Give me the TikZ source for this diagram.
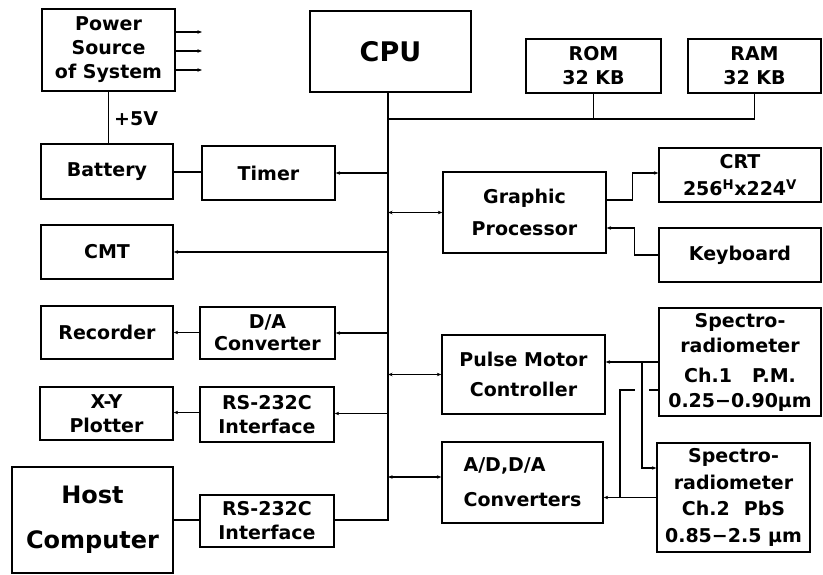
\documentclass[tikz,border=0pt]{standalone}
\usepackage{fontspec}
\setmainfont{DejaVu Sans}
\usetikzlibrary{arrows.meta}
\begin{document}
\begin{tikzpicture}[x=1pt,y=-1pt,
  box/.style={draw,line width=1.3pt,inner sep=0pt,align=center,font=\fontsize{19}{24}\selectfont\bfseries},
  ln/.style={line width=1.3pt},
  arr/.style={ln,-{Stealth[length=4.5pt,width=3.5pt]}},
  rarr/.style={ln,{Stealth[length=4.5pt,width=3.5pt]}-},
  barr/.style={ln,{Stealth[length=4.5pt,width=3.5pt]}-{Stealth[length=4.5pt,width=3.5pt]}},
]
\useasboundingbox (0,0) rectangle (823,574);
% boxes
\node[box,minimum width=133pt,minimum height=82pt] (pow) at (108.5,50) {Power\\Source\\of System};
\node[box,minimum width=132pt,minimum height=55pt] (bat) at (107,171.5) {Battery};
\node[box,minimum width=133pt,minimum height=54pt] (tim) at (268.5,173) {Timer};
\node[box,minimum width=161pt,minimum height=81pt,font=\fontsize{27}{30}\selectfont\bfseries] (cpu) at (390.5,51.5) {CPU};
\node[box,minimum width=135pt,minimum height=54pt] (rom) at (593.5,66) {ROM\\32 KB};
\node[box,minimum width=133pt,minimum height=54pt] (ram) at (754.5,66) {RAM\\32 KB};
\node[box,minimum width=162pt,minimum height=54pt] (crt) at (740,175) {CRT\\[3pt]256\textsuperscript{H}x224\textsuperscript{V}};
\node[box,minimum width=163pt,minimum height=81pt] (gp) at (524.5,212.5) {Graphic\\[8pt]Processor};
\node[box,minimum width=162pt,minimum height=54pt] (kbd) at (740,255) {Keyboard};
\node[box,minimum width=132pt,minimum height=54pt] (cmt) at (107,252) {CMT};
\node[box,minimum width=132pt,minimum height=53pt] (rec) at (107,332.5) {Recorder};
\node[box,minimum width=135pt,minimum height=52pt,font=\fontsize{19}{22}\selectfont\bfseries] (da) at (267.5,333) {D/A\\Converter};
\node[box,minimum width=133pt,minimum height=53pt] (xy) at (106.5,413.5) {X-Y\\Plotter};
\node[box,minimum width=134pt,minimum height=55pt] (rsa) at (267,414.5) {RS-232C\\Interface};
\node[box,minimum width=161pt,minimum height=106pt,font=\fontsize{24}{45}\selectfont\bfseries] (host) at (92.5,520) {Host\\Computer};
\node[box,minimum width=134pt,minimum height=52pt] (rsb) at (267,521) {RS-232C\\Interface};
\node[box,minimum width=163pt,minimum height=79pt,font=\fontsize{19}{30}\selectfont\bfseries] (pmc) at (523.5,374.5) {Pulse Motor\\Controller};
\node[box,minimum width=161pt,minimum height=81pt,font=\fontsize{19}{35}\selectfont\bfseries,align=left] (ad) at (522.5,482.5) {A/D,D/A\\Converters};
\node[box,minimum width=162pt,minimum height=108pt,font=\fontsize{19}{25}\selectfont\bfseries] (spa) at (740,362) {Spectro-\\radiometer\\[5pt]Ch.1\hspace{20pt}P.M.\\0.25−0.90μm};
\node[box,minimum width=153pt,minimum height=109pt,font=\fontsize{19}{26.5}\selectfont\bfseries] (spb) at (733.5,497.5) {Spectro-\\radiometer\\Ch.2\hspace{14pt}PbS\\0.85−2.5 μm};
\node[font=\fontsize{19}{24}\selectfont\bfseries,anchor=west,inner sep=0pt] (v5) at (114,119) {+5V};
% coordinates
\coordinate (bus) at (388,0);
\coordinate (mb) at (388,119);
\coordinate (pa) at (202,32);
\coordinate (pb) at (202,51);
\coordinate (pc) at (202,70);
\coordinate (ja) at (642,362);
\coordinate (jb) at (620,497.5);
% power
\draw[arr] (pow.east|-pa) -- (pa);
\draw[arr] (pow.east|-pb) -- (pb);
\draw[arr] (pow.east|-pc) -- (pc);
\draw[ln] (bat.north-|pow.south) -- (pow.south);
\draw[ln] ([yshift=-0.5pt]bat.east) -- ([yshift=-0.5pt]bat.east-|tim.west);
% bus
\draw[ln] (cpu.south-|bus) -- (bus|-rsb.east);
\draw[ln] (mb) -- (mb-|ram.south) -- (ram.south);
\draw[ln] (rom.south) -- (rom.south|-mb);
% left devices
\draw[rarr] (tim.east) -- (tim.east-|bus);
\draw[rarr] (cmt.east) -- (cmt.east-|bus);
\draw[rarr] (da.east) -- (da.east-|bus);
\draw[rarr] (rec.east) -- (rec.east-|da.west);
\draw[rarr] ([yshift=1pt]rsa.east) -- ([yshift=1pt]rsa.east-|bus);
\draw[rarr] ([yshift=1pt]xy.east) -- ([yshift=1pt]xy.east-|rsa.west);
\draw[ln] ([yshift=1pt]rsb.east) -- ([yshift=1pt]rsb.east-|bus);
\draw[ln] (host.east) -- (host.east-|rsb.west);
% right devices
\draw[barr] (gp.west-|bus) -- (gp.west);
\draw[barr] (pmc.west-|bus) -- (pmc.west);
\draw[barr] ([yshift=5.5pt]ad.west-|bus) -- ([yshift=5.5pt]ad.west);
\draw[arr] ([yshift=12.5pt]gp.east) -- ++(26,0) |- ([yshift=2pt]crt.west);
\draw[rarr] ([yshift=-15.5pt]gp.east) -- ++(28,0) |- (kbd.west);
\draw[arr] (spa.west) -- (spa.west-|pmc.east);
\draw[arr] (ja) |- ([yshift=29.5pt]spb.west);
\draw[arr] (spb.west) -- (spb.west-|ad.east);
\draw[ln] (jb) -- (620,390) -- (635,390);
\draw[ln] (649,390) -- (spa.west|-{(0,390)});
\end{tikzpicture}
\end{document}
